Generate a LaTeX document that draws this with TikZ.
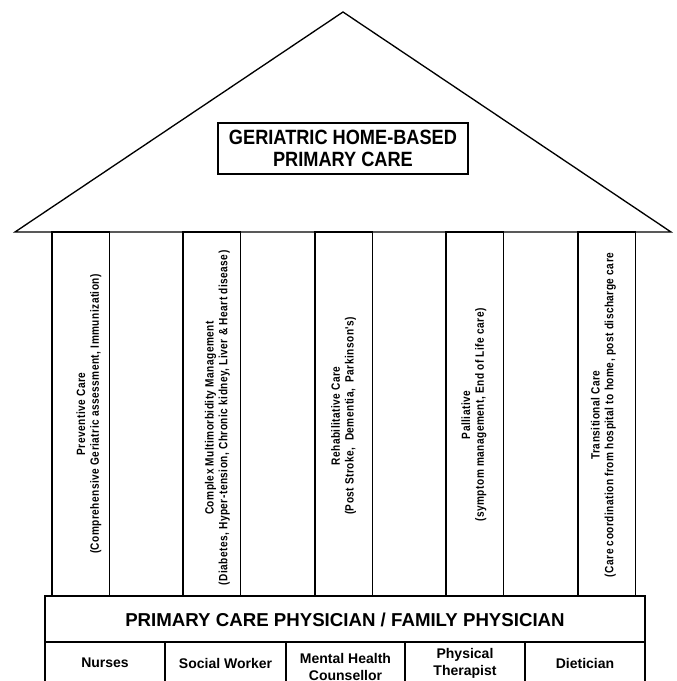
\documentclass[tikz,border=0pt]{standalone}
\usepackage{fontspec}
\setmainfont{Liberation Sans}
\newfontfamily\pillarfont{Liberation Sans}[FakeStretch=0.84,LetterSpace=4]
\newfontfamily\rooffont{Liberation Sans}[FakeStretch=0.88]

\tikzset{
  pillar/.style={draw, line width=1.3pt},
  pillartext/.style={rotate=90, align=center, inner sep=0pt, font=\pillarfont\bfseries\fontsize{9}{10.3}\selectfont},
  cell/.style={align=center, inner sep=0pt, font=\bfseries\fontsize{10.5}{12.75}\selectfont},
}

\begin{document}
\begin{tikzpicture}[x=0.75pt,y=-0.75pt]
\useasboundingbox (0,0) rectangle (676,681);
\clip (0,0) rectangle (676,681);

% Roof
\draw[line width=1pt] (15,232) -- (343,12) -- (671,232) -- cycle;
\node[draw, line width=1pt, minimum width=187.5pt, minimum height=38.25pt, align=center,
  font=\rooffont\bfseries\fontsize{15.5}{16.5}\selectfont] (roof) at (343,148.5)
  {GERIATRIC HOME-BASED\\PRIMARY CARE};

% Pillars
\foreach \x in {52,183,315,446,578}
  \draw[pillar] (\x,232) rectangle ++(57.5,364);

% Pillar texts
\node[pillartext] (prev) at (89,414)
  {Preventive Care\\(Comprehensive Geriatric assessment, Immunization)};
\node[pillartext] (multi) at (217.5,418)
  {Complex Multimorbidity Management\\(Diabetes, Hyper-tension, Chronic kidney, Liver \& Heart disease)};
\node[pillartext] (rehab) at (343.6,416)
  {Rehabilitative Care\\(Post Stroke,\ \ Dementia,\ \ Parkinson's)};
\node[pillartext] (pall) at (474,415)
  {Palliative\\(symptom management, End of Life care)};
\node[pillartext] (trans) at (603.5,415)
  {Transitional Care\\(Care coordination from hospital to home, post discharge care};

% Physician
\draw[pillar] (45,596) rectangle (645,642);
\node[font=\bfseries\fontsize{14}{16}\selectfont] (pcp) at (345,620) {PRIMARY CARE PHYSICIAN / FAMILY PHYSICIAN};

% Team
\draw[pillar] (45,642) rectangle (645,700);
\foreach \x in {165,286,405,525}
  \draw[pillar] (\x,642) -- (\x,700);
\node[cell] (nurse) at (105,663) {Nurses};
\node[cell] (social) at (225.5,663) {Social Worker};
\node[cell] (mental) at (345.5,666.5) {Mental Health\\Counsellor};
\node[cell] (physio) at (465,663.5) {Physical\\Therapist};
\node[cell] (diet) at (585,663) {Dietician};
\end{tikzpicture}
\end{document}
